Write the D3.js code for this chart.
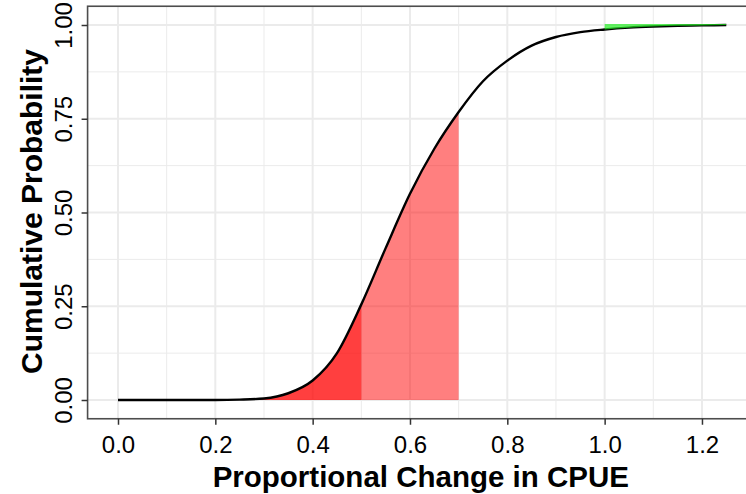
<!DOCTYPE html>
<html>
	<head>
		<meta charset="utf-8">
		<style type="text/css">
			body { margin: 0; background: white; }
			svg { display: block; font-family: "Liberation Sans", Arial, sans-serif; }
			.axis path.domain { display: none; }
			.axis line { stroke: #333; stroke-width: 1.5; }
			.axis text { fill: black; font-size: 24px; }
		</style>
		<title>Cumulative Probability</title>
	</head>
	<body>
		<script src="https://cdn.jsdelivr.net/npm/d3@7"></script>
		<script>

// CDF
var change = [0.00, 0.05, 0.10, 0.15, 0.20, 0.25, 0.30, 0.35, 0.40, 0.45, 0.50, 0.55, 0.60,
              0.65, 0.70, 0.75, 0.80, 0.85, 0.90, 0.95, 1.00, 1.05, 1.10, 1.15, 1.20, 1.25];
var cumprob = [0, 0, 0, 0, 0, 0.001, 0.004, 0.018, 0.052, 0.125, 0.255, 0.405, 0.55,
               0.67, 0.768, 0.85, 0.905, 0.945, 0.968, 0.981, 0.988, 0.993, 0.996, 0.998, 0.999, 1.0];

var xTicks = [0, 0.2, 0.4, 0.6, 0.8, 1.0, 1.2];
var xMinor = [0.1, 0.3, 0.5, 0.7, 0.9, 1.1, 1.3];
var yTicks = [0, 0.25, 0.5, 0.75, 1];
var yMinor = [0.125, 0.375, 0.625, 0.875];

// shaded ranges
var lowerTail = 0.5, lowerBand = 0.7, upperTail = 1.0;

var width = 746, height = 494;

var x = d3.scaleLinear().domain([0, 1.25]).range([118, 726.3]);
var y = d3.scaleLinear().domain([0, 1]).range([400, 25]);

// ggplot style 5% expansion
var [px0, px1] = [x(-0.0625), x(1.3125)];
var [py0, py1] = [y(-0.05), y(1.05)];

var data = change.map((c, i) => ({x: c, p: cumprob[i]}));

var svg = d3.select('body').append('svg')
	.attr('width', width)
	.attr('height', height);

var defs = svg.append('defs');
function clip(id, a, b) {
	defs.append('clipPath').attr('id', id)
	  .append('rect')
		.attr('x', x(a)).attr('y', py1)
		.attr('width', x(b) - x(a)).attr('height', py0 - py1);
}
clip('clip-tail', 0, lowerTail);
clip('clip-band', 0, lowerBand);
clip('clip-upper', upperTail, 1.25);

// grid
var grid = svg.append('g');
grid.selectAll('.vminor').data(xMinor).enter().append('line')
	.attr('x1', d => x(d)).attr('x2', d => x(d))
	.attr('y1', py1).attr('y2', py0)
	.attr('stroke', '#ebebeb').attr('stroke-width', 1);
grid.selectAll('.hminor').data(yMinor).enter().append('line')
	.attr('x1', px0).attr('x2', px1)
	.attr('y1', d => y(d)).attr('y2', d => y(d))
	.attr('stroke', '#ebebeb').attr('stroke-width', 1);
grid.selectAll('.vmajor').data(xTicks).enter().append('line')
	.attr('x1', d => x(d)).attr('x2', d => x(d))
	.attr('y1', py1).attr('y2', py0)
	.attr('stroke', '#ebebeb').attr('stroke-width', 2);
grid.selectAll('.hmajor').data(yTicks).enter().append('line')
	.attr('x1', px0).attr('x2', px1)
	.attr('y1', d => y(d)).attr('y2', d => y(d))
	.attr('stroke', '#ebebeb').attr('stroke-width', 2);

var below = d3.area()
	.x(d => x(d.x))
	.y0(y(0))
	.y1(d => y(d.p))
	.curve(d3.curveMonotoneX);

var above = d3.area()
	.x(d => x(d.x))
	.y0(y(1) - 1)
	.y1(d => y(d.p))
	.curve(d3.curveMonotoneX);

var cdf = d3.line()
	.x(d => x(d.x))
	.y(d => y(d.p))
	.curve(d3.curveMonotoneX);

svg.append('path').datum(data)
	.attr('d', below)
	.attr('fill', 'red').attr('fill-opacity', 0.5)
	.attr('clip-path', 'url(#clip-band)');
svg.append('path').datum(data)
	.attr('d', below)
	.attr('fill', 'red').attr('fill-opacity', 0.5)
	.attr('clip-path', 'url(#clip-tail)');

svg.append('path').datum(data)
	.attr('d', cdf)
	.attr('fill', 'none')
	.attr('stroke', 'black')
	.attr('stroke-width', 2.4);

svg.append('path').datum(data)
	.attr('d', above)
	.attr('fill', '#22ee22').attr('fill-opacity', 0.7)
	.attr('clip-path', 'url(#clip-upper)');

// panel border (right side falls outside the picture)
svg.append('rect')
	.attr('x', px0).attr('y', py1)
	.attr('width', px1 - px0).attr('height', py0 - py1)
	.attr('fill', 'none')
	.attr('stroke', '#4d4d4d')
	.attr('stroke-width', 1.6);

var xAxis = d3.axisBottom(x)
	.tickValues(xTicks)
	.tickFormat(d3.format('.1f'))
	.tickSize(6)
	.tickPadding(11);
svg.append('g')
	.attr('class', 'axis')
	.attr('transform', `translate(0,${py0})`)
	.call(xAxis);

var yAxis = d3.axisLeft(y)
	.tickValues(yTicks)
	.tickFormat(d3.format('.2f'))
	.tickSize(6);
svg.append('g')
	.attr('class', 'axis')
	.attr('transform', `translate(${px0},0)`)
	.call(yAxis)
  .selectAll('text')
	.attr('x', 0)
	.attr('dy', 0)
	.attr('text-anchor', 'middle')
	.attr('transform', 'translate(-15.5,0) rotate(-90)');

svg.append('text')
	.text('Proportional Change in CPUE')
	.attr('x', (px0 + Math.min(px1, width)) / 2 + 4)
	.attr('y', 487)
	.attr('text-anchor', 'middle')
	.attr('font-size', '29.5px')
	.attr('font-weight', 'bold');

svg.append('text')
	.text('Cumulative Probability')
	.attr('transform', `translate(42,${(py0 + py1) / 2 - 1}) rotate(-90)`)
	.attr('text-anchor', 'middle')
	.attr('font-size', '30px')
	.attr('font-weight', 'bold');

		</script>
	</body>
</html>
